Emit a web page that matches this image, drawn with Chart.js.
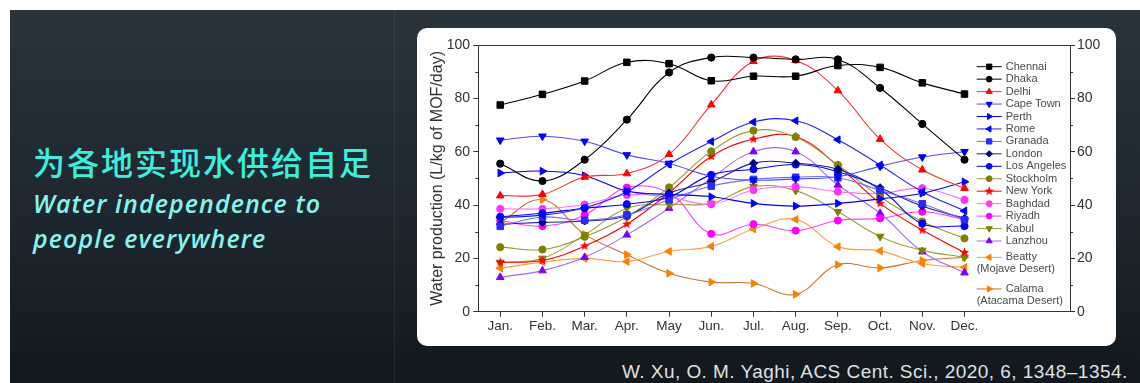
<!DOCTYPE html>
<html>
<head>
<meta charset="utf-8">
<script src="https://cdn.jsdelivr.net/npm/chart.js@4.4.1/dist/chart.umd.min.js"></script>
<style>
  body { margin: 0; width: 1140px; height: 383px; background: #fff; overflow: hidden; position: relative; }
  #slide { position: absolute; left: 10px; top: 10px; width: 1130px; height: 373px;
    background: linear-gradient(180deg, #28333c 0%, #1e272f 55%, #12181d 100%); }
  #divider { position: absolute; left: 394px; top: 10px; width: 1px; height: 373px; background: rgba(255,255,255,0.08); }
  #panel { position: absolute; left: 417px; top: 28px; width: 699px; height: 318px; background: #fff; border-radius: 10px; }
  #panel canvas { position: absolute; left: 0; top: 0; }
  .cn { position: absolute; left: 33px; top: 145px; font: 500 32px/32px "Noto Sans CJK SC", sans-serif;
    letter-spacing: 2px; color: #3cefdc; white-space: nowrap; }
  .en { position: absolute; left: 33px; font: italic 600 25px/25px "Open Sans", sans-serif;
    letter-spacing: 1.1px; color: #86f3ec; white-space: nowrap; }
  .cite { position: absolute; left: 622px; top: 362px; font: 19px/19px "Liberation Sans", Arial, sans-serif;
    letter-spacing: 0.45px; color: #dde2e5; white-space: nowrap; }
</style>
</head>
<body>
<div id="slide"></div>
<div id="divider"></div>
<div class="cn">为各地实现水供给自足</div>
<div class="en" style="top:191px">Water independence to</div>
<div class="en" style="top:226px">people everywhere</div>
<div id="panel"><canvas id="myChart" width="699" height="318"></canvas></div>
<div class="cite">W. Xu, O. M. Yaghi, ACS Cent. Sci., 2020, 6, 1348–1354.</div>
<script>
const months = ['Jan.', 'Feb.', 'Mar.', 'Apr.', 'May', 'Jun.', 'Jul.', 'Aug.', 'Sep.', 'Oct.', 'Nov.', 'Dec.'];
const yTicks = [0, 20, 40, 60, 80, 100];

// water production per month, L/kg of MOF/day
const chennai    = [77.5, 81.5, 86.5, 93.5, 93.0, 86.6, 88.3, 88.3, 92.3, 91.6, 85.8, 81.6];
const dhaka      = [55.5, 49.0, 57.0, 72.0, 89.7, 95.3, 95.3, 94.6, 94.6, 83.9, 70.4, 57.0];
const delhi      = [43.5, 44.0, 50.5, 51.8, 59.0, 77.6, 93.9, 94.2, 82.9, 64.7, 53.2, 46.3];
const capeTown   = [64.3, 65.8, 63.9, 58.8, 55.6, 50.8, 49.3, 49.8, 50.6, 54.5, 58.0, 60.0];
const perth      = [52.0, 52.7, 51.0, 45.2, 44.0, 43.1, 40.6, 39.6, 40.6, 42.3, 44.4, 48.7];
const rome       = [35.3, 36.2, 39.0, 45.0, 55.3, 63.8, 71.1, 71.6, 64.5, 55.0, 45.0, 37.8];
const granada    = [32.0, 35.5, 34.3, 36.3, 42.0, 47.1, 49.6, 50.4, 50.2, 45.5, 40.5, 34.5];
const london     = [32.8, 33.5, 34.0, 36.0, 44.5, 48.7, 55.7, 55.7, 53.4, 46.5, 39.6, 35.0];
const losAngeles = [35.6, 36.9, 38.8, 40.3, 43.0, 51.3, 53.4, 55.2, 52.5, 45.9, 33.0, 32.1];
const stockholm  = [24.2, 23.3, 28.1, 35.6, 46.6, 60.1, 67.9, 65.5, 55.0, 43.1, 33.8, 27.5];
const newYork    = [18.5, 19.2, 24.6, 32.8, 44.6, 58.2, 64.7, 65.7, 54.7, 40.6, 30.6, 22.2];
const baghdad    = [38.6, 38.6, 40.2, 43.8, 43.0, 40.3, 45.6, 46.9, 45.0, 44.3, 46.3, 41.9];
const riyadh     = [34.1, 32.1, 36.3, 46.5, 44.5, 29.2, 32.8, 30.4, 34.2, 35.0, 37.5, 34.6];
const kabul      = [18.5, 20.0, 28.8, 38.8, 40.2, 40.6, 46.9, 45.4, 37.5, 28.2, 23.0, 20.4];
const lanzhou    = [12.9, 15.4, 20.4, 28.8, 38.8, 50.0, 60.0, 60.0, 47.5, 36.9, 22.5, 14.6];
const beatty     = [16.3, 18.6, 20.0, 18.8, 22.6, 24.5, 31.0, 34.6, 24.4, 22.8, 18.1, 16.6];
const calama     = [33.5, 42.0, 29.0, 21.4, 14.4, 11.1, 10.6, 6.5, 17.6, 16.4, 19.2, 20.4];

// filled five point star for New York
function starImage(color) {
    const c = document.createElement('canvas');
    c.width = 11; c.height = 11;
    const g = c.getContext('2d');
    g.fillStyle = color;
    g.beginPath();
    for (let k = 0; k < 10; k++) {
        const r = k % 2 === 0 ? 5 : 2.1;
        const a = -Math.PI / 2 + k * Math.PI / 5;
        g.lineTo(5.5 + r * Math.cos(a), 5.5 + r * Math.sin(a));
    }
    g.closePath();
    g.fill();
    return c;
}

function series(label, values, color, style, opts) {
    opts = opts || {};
    return {
        label: label,
        note: opts.note,
        data: values.map((v, i) => ({ x: i, y: v })),
        borderColor: opts.line || color,
        backgroundColor: color,
        pointBackgroundColor: color,
        pointBorderColor: color,
        pointStyle: style,
        pointRotation: opts.rot || 0,
        pointRadius: opts.r || 4,
        pointBorderWidth: 1,
        borderWidth: 1.1,
        tension: 0.4,
    };
}

const datasets = [
    series('Chennai', chennai, '#000000', 'rect', { r: 4.6 }),
    series('Dhaka', dhaka, '#000000', 'circle', { r: 3.6 }),
    series('Delhi', delhi, '#ff0000', 'triangle', { r: 4.4, line: '#ff3030' }),
    series('Cape Town', capeTown, '#0000ff', 'triangle', { r: 4.4, rot: 180, line: '#5050ff' }),
    series('Perth', perth, '#0000ff', 'triangle', { r: 4.4, rot: 90 }),
    series('Rome', rome, '#0000ff', 'triangle', { r: 4.4, rot: 270, line: '#2020ff' }),
    series('Granada', granada, '#2a2aff', 'rect', { r: 4.6, line: '#7070ff' }),
    series('London', london, '#000080', 'rectRot', { r: 4, line: '#202090' }),
    series('Los Angeles', losAngeles, '#0000ff', 'circle', { r: 3.6 }),
    series('Stockholm', stockholm, '#808000', 'circle', { r: 3.6, line: '#9a9a30' }),
    series('New York', newYork, '#ff0000', starImage('#ff0000'), { r: 4 }),
    series('Baghdad', baghdad, '#ff33ff', 'circle', { r: 3.6, line: '#ff70ff' }),
    series('Riyadh', riyadh, '#ff00ff', 'circle', { r: 3.6, line: '#ff40ff' }),
    series('Kabul', kabul, '#808000', 'triangle', { r: 4.4, rot: 180, line: '#a0a040' }),
    series('Lanzhou', lanzhou, '#8000ff', 'triangle', { r: 4.4, line: '#a866ff' }),
    series('Beatty', beatty, '#ff8000', 'triangle', { r: 4.4, rot: 270, line: '#ffa040', note: '(Mojave Desert)' }),
    series('Calama', calama, '#ff8000', 'triangle', { r: 4.4, rot: 90, line: '#c8782a', note: '(Atacama Desert)' }),
];

const axisColor = '#333333';

// box top line, minor ticks and the legend inside the frame
const framePlugin = {
    id: 'frame',
    afterDraw(chart) {
        const ctx = chart.ctx;
        const a = chart.chartArea;
        const y = chart.scales.y;
        ctx.save();
        ctx.strokeStyle = axisColor;
        ctx.lineWidth = 1;
        ctx.beginPath();
        ctx.moveTo(a.left, a.top + 0.5);
        ctx.lineTo(a.right, a.top + 0.5);
        for (let v = 10; v < 100; v += 20) {
            const py = Math.round(y.getPixelForValue(v)) + 0.5;
            ctx.moveTo(a.left, py); ctx.lineTo(a.left - 3, py);
            ctx.moveTo(a.right, py); ctx.lineTo(a.right + 3, py);
        }
        ctx.stroke();

        // legend
        const lx1 = a.right - 93.3, lx2 = a.right - 68.3, tx = a.right - 64.3;
        let ly = a.top + 21.7;
        ctx.font = '11px "Liberation Sans", Arial, sans-serif';
        ctx.textBaseline = 'middle';
        ctx.textAlign = 'left';
        chart.data.datasets.forEach(ds => {
            if (ds.note) ly += 3.9;
            ctx.strokeStyle = ds.borderColor;
            ctx.beginPath();
            ctx.moveTo(lx1, ly); ctx.lineTo(lx2, ly);
            ctx.stroke();
            ctx.fillStyle = ds.pointBackgroundColor;
            ctx.strokeStyle = ds.pointBorderColor;
            Chart.helpers.drawPoint(ctx, {
                pointStyle: ds.pointStyle, rotation: ds.pointRotation,
                radius: ds.pointRadius * 0.8, borderWidth: 1
            }, (lx1 + lx2) / 2, ly);
            ctx.fillStyle = '#4a4a4a';
            ctx.fillText(ds.label, tx, ly);
            if (ds.note) {
                ly += 12;
                ctx.fillText(ds.note, lx1, ly);
                ly += 15.7;
            } else {
                ly += 12.45;
            }
        });
        ctx.restore();
    }
};

Chart.defaults.font.family = '"Liberation Sans", Arial, sans-serif';
Chart.defaults.color = axisColor;

const yScale = (position, w, pad) => ({
    type: 'linear',
    position: position,
    min: 0,
    max: 100,
    afterBuildTicks: s => { s.ticks = yTicks.map(v => ({ value: v })); },
    afterFit: s => { s.width = w; },
    grid: { drawOnChartArea: false, tickLength: 5, color: axisColor },
    border: { color: axisColor, width: 1 },
    ticks: { font: { size: 14 }, padding: pad, color: axisColor },
});

const config = {
    type: 'line',
    data: { datasets: datasets },
    options: {
        responsive: false,
        animation: false,
        devicePixelRatio: 1,
        layout: { padding: { top: 17, left: 0, right: 0, bottom: 0 } },
        plugins: { legend: { display: false }, tooltip: { enabled: false } },
        scales: {
            x: {
                type: 'linear',
                min: -0.52,
                max: 13.5,
                afterBuildTicks: s => { s.ticks = months.map((m, i) => ({ value: i })); },
                afterFit: s => { s.height = 34.3; },
                grid: { drawOnChartArea: false, tickLength: 5, color: axisColor },
                border: { color: axisColor, width: 1 },
                ticks: { font: { size: 13.5 }, padding: 1, color: axisColor, maxRotation: 0,
                         callback: v => months[v] },
            },
            y: Object.assign(yScale('left', 61.3, 3.3), {
                title: { display: true, text: 'Water production (L/kg of MOF/day)',
                         font: { size: 16 }, color: axisColor, padding: { top: 10.9, bottom: 0 } },
            }),
            y2: yScale('right', 46, 2),
        },
    },
    plugins: [framePlugin],
};

const myChart = new Chart(document.getElementById('myChart'), config);
</script>
</body>
</html>
